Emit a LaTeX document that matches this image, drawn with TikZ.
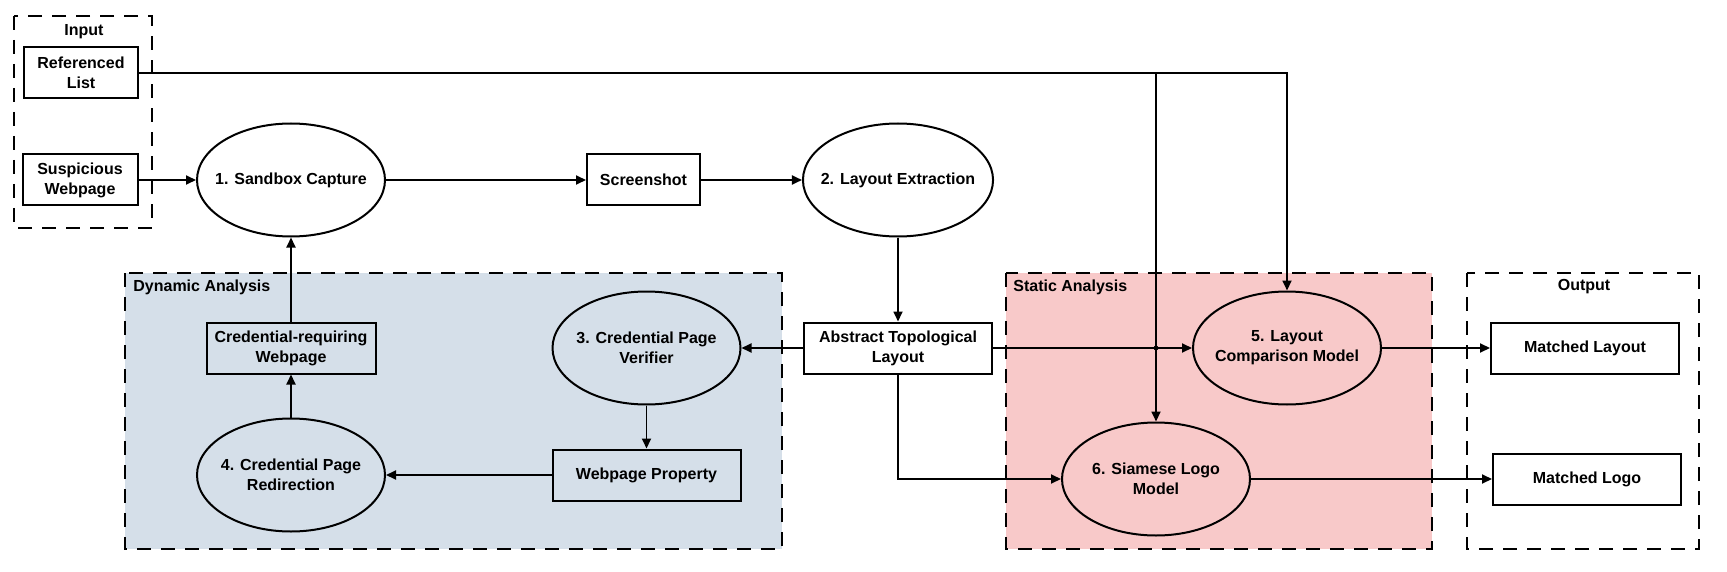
\documentclass[tikz,border=0pt]{standalone}
\usepackage{fontspec}
\setmainfont{Liberation Sans}
\usepackage{tikz}
\usepackage{xcolor}
\usetikzlibrary{shapes.geometric,arrows.meta}
\definecolor{dynamic-fill}{RGB}{213,223,233}
\definecolor{static-fill}{RGB}{248,201,201}
\newcommand{\diagfont}{\fontsize{8}{10}\selectfont\bfseries}
\tikzset{
    proc-box/.style = {draw, line width=1pt, rectangle, minimum height=25.5pt, inner sep=1pt, align=center, font=\diagfont},
    proc-oval/.style = {draw, line width=1pt, ellipse, minimum width=94pt, minimum height=56.5pt, inner xsep=-5pt, inner ysep=0pt, align=center, font=\diagfont},
    group-box/.style = {draw, line width=1.2pt, dash pattern=on 7pt off 5pt},
    group-title/.style = {font=\diagfont, inner sep=0pt},
    flow/.style = {line width=0.9pt, -{Triangle[length=5pt,width=4.5pt]}},
}

\begin{document}
\begin{tikzpicture}[x=0.5pt, y=-0.5pt]
\useasboundingbox (0,0) rectangle (1727,572);

% groups
\draw[group-box] (14,16) rectangle (152,228);
\node[group-title] at (84,32) {Input};
\draw[group-box, fill=dynamic-fill] (125,273) rectangle (782,549);
\node[group-title, anchor=west] at (133,287) {Dynamic Analysis};
\draw[group-box, fill=static-fill] (1006,273) rectangle (1432,549);
\node[group-title, anchor=west] at (1013,287) {Static Analysis};
\draw[group-box] (1467,273) rectangle (1699,549);
\node[group-title] at (1584,287) {Output};

% inputs
\node[proc-box, minimum width=57pt] (reflist) at (81,73) {Referenced\\List};
\node[proc-box, minimum width=57.5pt] (suspicious) at (80,180) {Suspicious\\Webpage};

% main row
\node[proc-oval] (sandbox) at (291,180) {1. Sandbox Capture};
\node[proc-box, minimum width=56.5pt] (screenshot) at (643.5,180) {Screenshot};
\node[proc-oval] (extract) at (898,180) {2. Layout Extraction};
\node[proc-box, minimum width=94pt] (abstract) at (898,348) {Abstract Topological\\Layout};

% dynamic analysis
\node[proc-box, minimum width=84.5pt] (credreq) at (291,348) {Credential-requiring\\Webpage};
\node[proc-oval] (verifier) at (646.5,348) {3. Credential Page\\Verifier};
\node[proc-box, minimum width=94pt] (property) at (646.5,475) {Webpage Property};
\node[proc-oval] (redirect) at (291,475) {4. Credential Page\\Redirection};

% static analysis
\node[proc-oval] (compare) at (1287,348) {5. Layout\\Comparison Model};
\node[proc-oval] (siamese) at (1156,479) {6. Siamese Logo\\Model};

% outputs
\node[proc-box, minimum width=94pt] (matchlayout) at (1585,348) {Matched Layout};
\node[proc-box, minimum width=94pt] (matchlogo) at (1587,479) {Matched Logo};

% connectors
\draw[flow] (reflist.east) -- (reflist.east -| compare) -- (compare.north);
\draw[flow] (reflist.east -| siamese) -- (siamese.north);
\draw[flow] (suspicious) -- (sandbox);
\draw[flow] (sandbox) -- (screenshot);
\draw[flow] (screenshot) -- (extract);
\draw[flow] (extract) -- (abstract);
\draw[flow] (abstract) -- (verifier);
\draw[flow] (abstract) -- (compare);
\fill (abstract.east -| siamese) circle (1.2pt);
\draw[flow] (abstract.south) |- (siamese.west);
\draw[flow] (verifier) -- (property);
\draw[flow] (property) -- (redirect);
\draw[flow] (redirect.north) -- (credreq.south);
\draw[flow] (credreq.north) -- (sandbox.south);
\draw[flow] (compare) -- (matchlayout);
\draw[flow] (siamese) -- (matchlogo);
\end{tikzpicture}
\end{document}
